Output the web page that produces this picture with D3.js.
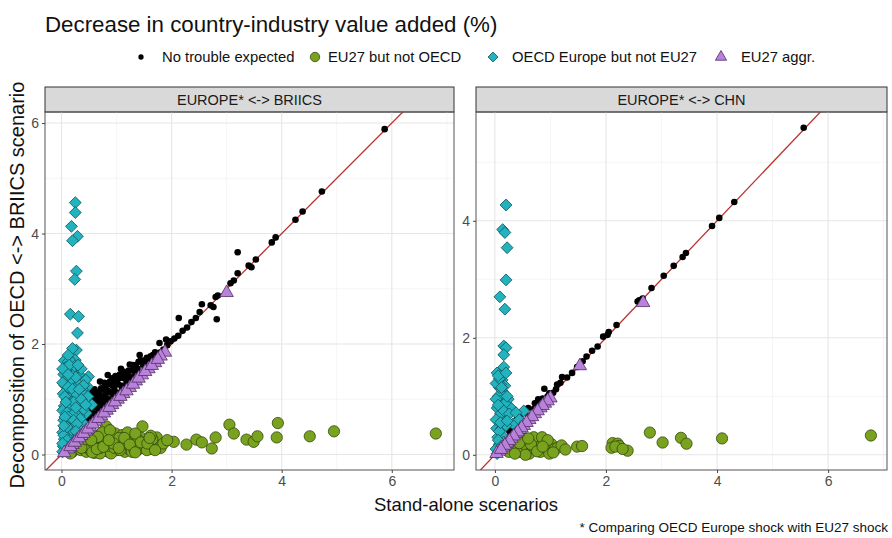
<!DOCTYPE html>
<html><head><meta charset="utf-8">
<script src="https://cdn.jsdelivr.net/npm/d3@7"></script>
<style>body{margin:0;background:#fff}svg{display:block;font-family:"Liberation Sans",Arial,sans-serif}</style>
</head><body><svg id="c" width="892" height="538"></svg>
<script>
const title = "Decrease in country-industry value added (%)";
const xTitle = "Stand-alone scenarios";
const yTitle = "Decomposition of OECD <-> BRIICS scenario";
const footnote = "* Comparing OECD Europe shock with EU27 shock";
const seriesNames = ["No trouble expected","EU27 but not OECD","OECD Europe but not EU27","EU27 aggr."];
const panelNames = ["EUROPE* <-> BRIICS","EUROPE* <-> CHN"];
const xTicks = [0,2,4,6];
const yTicksLeft = [0,2,4,6];
const yTicksRight = [0,2,4];

// Panel 1: EUROPE* <-> BRIICS  [stand-alone, decomposition]
const briicsNoTrouble = [[5.87,5.89],[4.73,4.76],[4.38,4.40],[4.25,4.25],[3.89,3.93],[3.82,3.84],[3.20,3.66],[3.53,3.53],[3.45,3.39],[3.40,3.42],[3.20,3.28],[3.13,3.15],[3.07,3.10],[2.84,2.88],[2.80,2.85],[2.55,2.72],[2.71,2.70],[2.76,2.67],[2.51,2.58],[2.44,2.47],[2.13,2.47],[2.82,2.45],[2.36,2.40],[2.28,2.30],[2.20,2.24],[2.12,2.15],[2.05,2.10],[1.98,2.05],[1.92,1.98],[1.78,2.02],[1.85,1.90],[1.70,1.85],[1.62,1.78],[1.55,1.75],[1.42,1.80],[1.48,1.62],[1.38,1.55],[1.30,1.62],[1.24,1.63],[1.20,1.45],[1.12,1.50],[1.05,1.38],[0.98,1.42],[0.84,1.44],[0.92,1.25],[0.85,1.15],[0.78,1.30],[0.72,1.20],[0.65,1.05],[0.60,1.18],[0.56,1.12],[0.52,0.95],[0.48,0.85],[0.44,1.00],[0.40,0.75],[0.36,0.90],[0.31,0.85],[0.34,0.62],[0.28,0.55],[0.25,0.70],[0.22,0.45],[0.18,0.38],[0.15,0.30],[0.12,0.25],[0.10,0.18],[0.08,0.12],[0.06,0.08],[0.04,0.05],[1.75,1.72],[1.60,1.58],[1.45,1.45],[1.33,1.35],[1.15,1.22],[1.00,1.12],[0.88,0.98],[0.75,0.88],[0.68,0.80],[0.58,0.70],[0.50,0.62],[0.42,0.55],[0.38,0.48],[0.30,0.40],[0.20,0.28],[1.02,1.28],[1.18,1.30],[0.70,0.95],[0.62,0.85],[0.95,1.05],[1.27,1.40],[1.52,1.55],[1.68,1.67],
 [0.26,0.62],[0.33,0.75],[0.38,0.68],[0.46,0.72],[0.54,0.80],[0.60,0.95],[0.66,0.92],[0.74,1.05],[0.80,1.10],[0.86,1.28],[0.90,1.12],[0.96,1.22],[1.08,1.25],[1.14,1.38],[1.22,1.52],[1.34,1.48],[1.40,1.68],[1.50,1.70],[1.58,1.68],[1.66,1.80],[1.72,1.78],[1.80,1.85],[1.90,2.08],[0.45,0.60],[0.55,0.66],[0.63,0.74],[0.71,0.82],[0.80,0.92],[0.90,1.00],[1.10,1.18],[1.25,1.30],[1.38,1.42],[0.48,1.05],[0.70,1.32],[0.94,1.35],[1.08,1.55],[0.36,0.58],[0.24,0.36],[0.16,0.24],[0.52,0.74],[0.64,0.98],[0.76,0.98],
 [0.30,0.70],[0.35,0.80],[0.42,0.88],[0.46,0.95],[0.50,1.02],[0.55,1.00],[0.58,0.88],[0.62,1.10],[0.68,1.12],[0.74,1.18],[0.80,1.22],[0.82,1.02],[0.88,1.32],[0.92,1.38],[1.00,1.30],[1.06,1.45],[1.10,1.40],[1.16,1.48],[1.22,1.40],[1.28,1.52],[1.35,1.62],[1.44,1.70],[1.52,1.65],[1.60,1.72],[0.40,0.65],[0.28,0.48],[0.22,0.55],[0.18,0.48],[0.66,0.72],[0.96,1.15]];
const briicsEU27NotOECD = [[0.81,0.51],[1.47,0.51],[1.73,0.31],[2.04,0.23],[2.27,0.18],[2.45,0.27],[2.55,0.22],[2.73,0.11],[2.80,0.31],[3.05,0.54],[3.13,0.38],[3.36,0.27],[3.49,0.23],[3.56,0.33],[3.93,0.57],[3.91,0.31],[4.51,0.33],[4.95,0.42],[6.80,0.38],[0.20,0.05],[0.28,0.10],[0.35,0.08],[0.40,0.15],[0.45,0.05],[0.50,0.20],[0.55,0.12],[0.60,0.03],[0.62,0.25],[0.68,0.08],[0.72,0.18],[0.75,0.30],[0.80,0.12],[0.85,0.05],[0.88,0.22],[0.92,0.15],[0.95,0.30],[1.00,0.08],[1.02,0.20],[1.08,0.14],[1.12,0.25],[1.15,0.05],[1.18,0.18],[1.22,0.10],[1.25,0.28],[1.30,0.15],[1.35,0.22],[1.38,0.08],[1.42,0.18],[1.48,0.12],[1.52,0.25],[1.58,0.15],[1.62,0.10],[1.68,0.20],[1.75,0.15],[1.80,0.12],[0.30,0.22],[0.38,0.28],[0.48,0.32],[0.58,0.35],[0.70,0.02],[0.82,0.35],[0.98,0.38],[1.10,0.35],[1.20,0.40],[0.65,0.15],[0.78,0.22],[0.90,0.02],[1.05,0.30],[1.28,0.05],[1.45,0.30],[0.25,0.15],[0.42,0.22],[0.52,0.08],[0.16,0.02],
 [0.33,0.18],[0.46,0.14],[0.58,0.20],[0.70,0.12],[0.84,0.16],[0.96,0.12],[1.06,0.08],[1.16,0.22],[1.32,0.10],[1.40,0.26],[1.55,0.08],[1.65,0.28],[1.85,0.20],[1.92,0.26],[0.74,0.40],[0.88,0.44],[1.34,0.38],[1.62,0.34],
 [0.36,0.12],[0.44,0.28],[0.56,0.04],[0.64,0.10],[0.76,0.14],[0.94,0.20],[1.04,0.12],[1.14,0.30],[1.24,0.18],[1.34,0.04],[1.44,0.22],[1.56,0.20],[1.70,0.08],[1.60,0.30],[0.86,0.26],[0.66,0.32],[0.54,0.26]];
const briicsOECDNotEU27 = [[0.25,4.56],[0.25,4.38],[0.18,4.13],[0.29,3.95],[0.20,3.87],[0.27,3.32],[0.24,3.17],[0.16,2.54],[0.31,2.50],[0.29,2.20],[0.27,1.89],[0.25,1.71],[0.05,1.70],[0.12,1.68],[0.20,1.66],[0.08,1.58],[0.16,1.55],[0.28,1.52],[0.04,1.45],[0.22,1.45],[0.35,1.42],[0.49,1.41],[0.10,1.38],[0.30,1.35],[0.18,1.30],[0.06,1.25],[0.26,1.22],[0.47,1.23],[0.38,1.18],[0.14,1.15],[0.03,1.10],[0.22,1.08],[0.32,1.05],[0.10,1.00],[0.42,0.98],[0.18,0.95],[0.28,0.92],[0.55,0.90],[0.05,0.88],[0.36,0.85],[0.14,0.82],[0.24,0.78],[0.45,0.75],[0.08,0.72],[0.32,0.70],[0.18,0.66],[0.04,0.62],[0.26,0.60],[0.12,0.56],[0.38,0.58],[0.20,0.52],[0.06,0.48],[0.30,0.48],[0.14,0.44],[0.02,0.40],[0.22,0.38],[0.10,0.34],[0.05,0.28],[0.16,0.28],[0.08,0.22],[0.03,0.15],[0.12,0.18],[0.06,0.10],[0.02,0.05],[0.20,1.92],[0.12,1.80],
 [0.08,1.50],[0.24,1.60],[0.34,1.30],[0.40,1.10],[0.02,1.30],[0.12,1.22],[0.20,1.18],[0.28,1.08],[0.06,1.05],[0.16,0.90],[0.22,0.95],[0.32,0.88],[0.40,0.82],[0.02,0.80],[0.10,0.76],[0.28,0.72],[0.20,0.72],[0.14,0.62],[0.08,0.55],[0.24,0.52],[0.16,0.40],[0.04,0.35],[0.10,0.26],[0.02,0.20],
 [0.36,1.55],[0.44,1.35],[0.14,1.62],[0.30,1.62],[0.02,1.55],[0.26,1.40],[0.12,1.45],[0.40,1.25],[0.32,1.18],[0.08,0.95],[0.48,1.05],[0.36,1.00],[0.26,0.85],[0.44,0.90],[0.12,0.68],[0.34,0.65],[0.22,0.62],[0.06,0.68],[0.28,0.55],[0.18,0.45],[0.10,0.50],[0.26,0.42],[0.04,0.52]];
const briicsEU27Aggr = [[3.00,2.93],[1.88,1.85],[1.80,1.78],[1.70,1.66],[1.58,1.55],[1.46,1.44],[1.35,1.33],[1.24,1.21],[1.12,1.10],[1.02,1.00],[0.92,0.90],[0.82,0.80],[0.72,0.70],[0.62,0.60],[0.52,0.50],[0.44,0.42],[0.36,0.34],[0.28,0.26],[0.20,0.18],[0.12,0.10],[0.05,0.03],
 [0.16,0.14],[0.24,0.22],[0.32,0.30],[0.40,0.38],[0.48,0.46],[0.57,0.55],[0.67,0.65],[0.77,0.75],[0.87,0.85],[0.97,0.95],[1.07,1.05],[1.18,1.15],[1.30,1.27],[1.40,1.38],[1.52,1.50],[1.64,1.61],[1.75,1.72]];

// Panel 2: EUROPE* <-> CHN
const chnNoTrouble = [[5.56,5.59],[4.31,4.32],[4.04,4.05],[3.91,3.91],[3.44,3.45],[3.38,3.38],[3.22,3.23],[3.04,3.06],[2.82,2.85],[2.66,2.67],[2.57,2.62],[2.60,2.64],[2.19,2.22],[2.05,2.10],[1.95,2.02],[2.03,2.05],[1.85,1.85],[1.65,1.68],[1.58,1.60],[1.39,1.40],[1.21,1.33],[1.18,1.23],[0.89,1.13],[1.05,1.06],[1.10,1.12],[1.30,1.32],[0.95,1.00],[0.80,0.85],[0.70,0.78],[0.60,0.66],[0.50,0.58],[0.42,0.48],[0.35,0.42],[0.28,0.36],[0.22,0.28],[0.15,0.20],[0.10,0.14],[0.05,0.08],[0.60,0.80],[0.40,0.62],[0.30,0.55],[0.78,0.95],[1.75,1.78],[1.48,1.50],[1.12,1.20],[0.98,1.05],[0.86,0.96],[0.72,0.88],[0.48,0.70],[0.25,0.42]];
const chnEU27NotOECD = [[0.33,0.08],[0.40,0.15],[0.45,0.05],[0.52,0.22],[0.58,0.12],[0.62,0.02],[0.67,0.26],[0.72,0.10],[0.78,0.18],[0.82,0.05],[0.88,0.22],[0.92,0.12],[0.98,0.02],[1.02,0.18],[1.08,0.10],[1.13,0.12],[1.20,0.16],[1.27,0.09],[1.48,0.14],[1.57,0.15],[0.48,0.28],[0.70,0.30],[0.85,0.30],[0.55,0.00],[0.25,0.05],[0.38,0.25],[0.95,0.25],[1.05,0.04],[0.65,0.18],[2.12,0.20],[2.21,0.19],[2.24,0.15],[2.10,0.12],[2.17,0.14],[2.39,0.07],[2.30,0.10],[2.79,0.38],[3.02,0.21],[3.35,0.29],[3.45,0.19],[4.09,0.28],[6.77,0.33],[0.44,0.20],[0.60,0.28],[0.76,0.06],[0.86,0.14],[0.36,0.02]];
const chnOECDNotEU27 = [[0.20,4.27],[0.14,3.85],[0.18,3.80],[0.22,3.54],[0.20,2.99],[0.09,2.70],[0.18,2.49],[0.16,1.86],[0.20,1.83],[0.16,1.71],[0.04,1.40],[0.14,1.38],[0.13,1.28],[0.14,1.08],[0.06,1.00],[0.04,0.80],[0.13,0.82],[0.29,0.80],[0.52,0.75],[0.33,0.53],[0.10,0.92],[0.18,1.18],[0.08,1.15],[0.06,0.60],[0.15,0.62],[0.22,0.70],[0.03,0.45],[0.12,0.45],[0.20,0.50],[0.05,0.30],[0.14,0.32],[0.08,0.18],[0.02,0.10],[0.10,0.08],[0.04,0.02],[0.16,1.50],[0.10,1.20],[0.24,0.95],[0.02,1.22],[0.08,1.30],[0.02,0.95],[0.10,0.70],[0.18,0.88],[0.02,0.60],[0.08,0.40],[0.16,0.22],
 [0.06,1.35],[0.12,1.15],[0.22,1.00],[0.06,0.85],[0.16,0.75],[0.26,0.70],[0.10,0.55],[0.22,0.58],[0.06,0.25],[0.12,0.15],[0.38,0.72],[0.44,0.60],[0.20,1.40]];
const chnEU27Aggr = [[2.67,2.60],[1.53,1.52],[1.00,0.97],[0.90,0.88],[0.82,0.80],[0.72,0.70],[0.62,0.60],[0.52,0.50],[0.45,0.43],[0.38,0.36],[0.30,0.28],[0.22,0.20],[0.15,0.13],[0.08,0.06],[0.03,0.02],
 [0.95,0.92],[0.86,0.84],[0.77,0.75],[0.67,0.65],[0.57,0.55],[0.48,0.46],[0.41,0.39],[0.34,0.32],[0.26,0.24],[0.18,0.16],[0.11,0.09]];

const panels = [
  {name: panelNames[0], x0:45, x1:454, xd:[-0.30,7.13], yd:[-0.28,6.20], yTicks:yTicksLeft,
   series:[briicsNoTrouble, briicsEU27NotOECD, briicsOECDNotEU27, briicsEU27Aggr]},
  {name: panelNames[1], x0:476, x1:887, xd:[-0.34,7.06], yd:[-0.26,5.86], yTicks:yTicksRight,
   series:[chnNoTrouble, chnEU27NotOECD, chnOECDNotEU27, chnEU27Aggr]}
];
const stripTop = 87, stripBot = 112, plotBot = 470;

const styles = [
  {shape: d3.symbolCircle, size: 34, fill:"#000", stroke:"none", sw:0, rot:0},
  {shape: d3.symbolCircle, size: 100, fill:"#79A31E", stroke:"#34470c", sw:0.8, rot:0},
  {shape: d3.symbolSquare, size: 70, fill:"#22B3BE", stroke:"#0e5860", sw:0.8, rot:45},
  {shape: d3.symbolTriangle, size: 78, fill:"#B982DA", stroke:"#4f2d62", sw:0.8, rot:0}
];

const svg = d3.select("#c");
const defs = svg.append("defs");

svg.append("text").attr("x",45).attr("y",32).attr("font-size",22.3).attr("fill","#111").text(title);

// legend
const legSym = [141, 315, 493, 721];
const legTxt = [162, 328, 512, 741];
const leg = svg.append("g");
seriesNames.forEach((n,i)=>{
  const s = styles[i];
  const sz = i===0 ? 22 : s.size*0.7;
  leg.append("path").attr("transform",`translate(${legSym[i]},57) rotate(${s.rot})`)
    .attr("d", d3.symbol().type(s.shape).size(sz)())
    .attr("fill",s.fill).attr("stroke",s.stroke).attr("stroke-width",s.sw);
  leg.append("text").attr("x",legTxt[i]).attr("y",62).attr("font-size",14.8).attr("fill","#111").text(n);
});

panels.forEach((p,pi)=>{
  const x = d3.scaleLinear().domain(p.xd).range([p.x0,p.x1]);
  const y = d3.scaleLinear().domain(p.yd).range([plotBot,stripBot]);
  const g = svg.append("g");
  g.append("rect").attr("x",p.x0).attr("y",stripTop).attr("width",p.x1-p.x0).attr("height",stripBot-stripTop)
    .attr("fill","#d9d9d9").attr("stroke","#333").attr("stroke-width",1);
  g.append("text").attr("x",(p.x0+p.x1)/2).attr("y",(stripTop+stripBot)/2+5).attr("text-anchor","middle")
    .attr("font-size",14.5).attr("fill","#1a1a1a").text(p.name);
  const minorX = d3.range(Math.ceil(p.xd[0]), Math.floor(p.xd[1])+1).filter(v=>v%2!==0);
  const minorY = d3.range(Math.ceil(p.yd[0]), Math.floor(p.yd[1])+1).filter(v=>v%2!==0);
  minorX.forEach(v=>g.append("line").attr("x1",x(v)).attr("x2",x(v)).attr("y1",stripBot).attr("y2",plotBot).attr("stroke","#f0f0f0").attr("stroke-width",0.7));
  minorY.forEach(v=>g.append("line").attr("y1",y(v)).attr("y2",y(v)).attr("x1",p.x0).attr("x2",p.x1).attr("stroke","#f0f0f0").attr("stroke-width",0.7));
  xTicks.forEach(v=>g.append("line").attr("x1",x(v)).attr("x2",x(v)).attr("y1",stripBot).attr("y2",plotBot).attr("stroke","#e6e6e6").attr("stroke-width",1.1));
  p.yTicks.forEach(v=>g.append("line").attr("y1",y(v)).attr("y2",y(v)).attr("x1",p.x0).attr("x2",p.x1).attr("stroke","#e6e6e6").attr("stroke-width",1.1));
  const cid = "clip"+pi;
  defs.append("clipPath").attr("id",cid).append("rect").attr("x",p.x0).attr("y",stripBot).attr("width",p.x1-p.x0).attr("height",plotBot-stripBot);
  const cg = g.append("g").attr("clip-path",`url(#${cid})`);
  const lo = Math.min(p.xd[0],p.yd[0]), hi = Math.max(p.xd[1],p.yd[1]);
  cg.append("line").attr("x1",x(lo)).attr("y1",y(lo)).attr("x2",x(hi)).attr("y2",y(hi))
    .attr("stroke","#b8322f").attr("stroke-width",1.3);
  p.series.forEach((data,si)=>{
    const s = styles[si];
    cg.selectAll(null).data(data).join("path")
      .attr("transform",d=>`translate(${x(d[0])},${y(d[1])}) rotate(${s.rot})`)
      .attr("d", d3.symbol().type(s.shape).size(s.size)())
      .attr("fill",s.fill).attr("stroke",s.stroke).attr("stroke-width",s.sw);
  });
  g.append("rect").attr("x",p.x0).attr("y",stripBot).attr("width",p.x1-p.x0).attr("height",plotBot-stripBot)
    .attr("fill","none").attr("stroke","#555").attr("stroke-width",1);
  const ax = d3.axisBottom(x).tickValues(xTicks).tickSize(3).tickPadding(3).tickFormat(d3.format("d"));
  const axg = g.append("g").attr("transform",`translate(0,${plotBot})`).call(ax);
  const ay = d3.axisLeft(y).tickValues(p.yTicks).tickSize(3).tickPadding(3).tickFormat(d3.format("d"));
  const ayg = g.append("g").attr("transform",`translate(${p.x0},0)`).call(ay);
  [axg,ayg].forEach(a=>{
    a.select(".domain").remove();
    a.selectAll(".tick line").attr("stroke","#444");
    a.selectAll(".tick text").attr("fill","#4d4d4d").attr("font-size",14).attr("font-family","Liberation Sans, Arial, sans-serif");
  });
});

svg.append("text").attr("x",466).attr("y",511).attr("text-anchor","middle").attr("font-size",18.5).attr("fill","#111").text(xTitle);
svg.append("text").attr("transform","translate(24,285) rotate(-90)").attr("text-anchor","middle").attr("font-size",20).attr("fill","#111").text(yTitle);
svg.append("text").attr("x",888).attr("y",532).attr("text-anchor","end").attr("font-size",13.5).attr("fill","#111").text(footnote);
</script></body></html>
